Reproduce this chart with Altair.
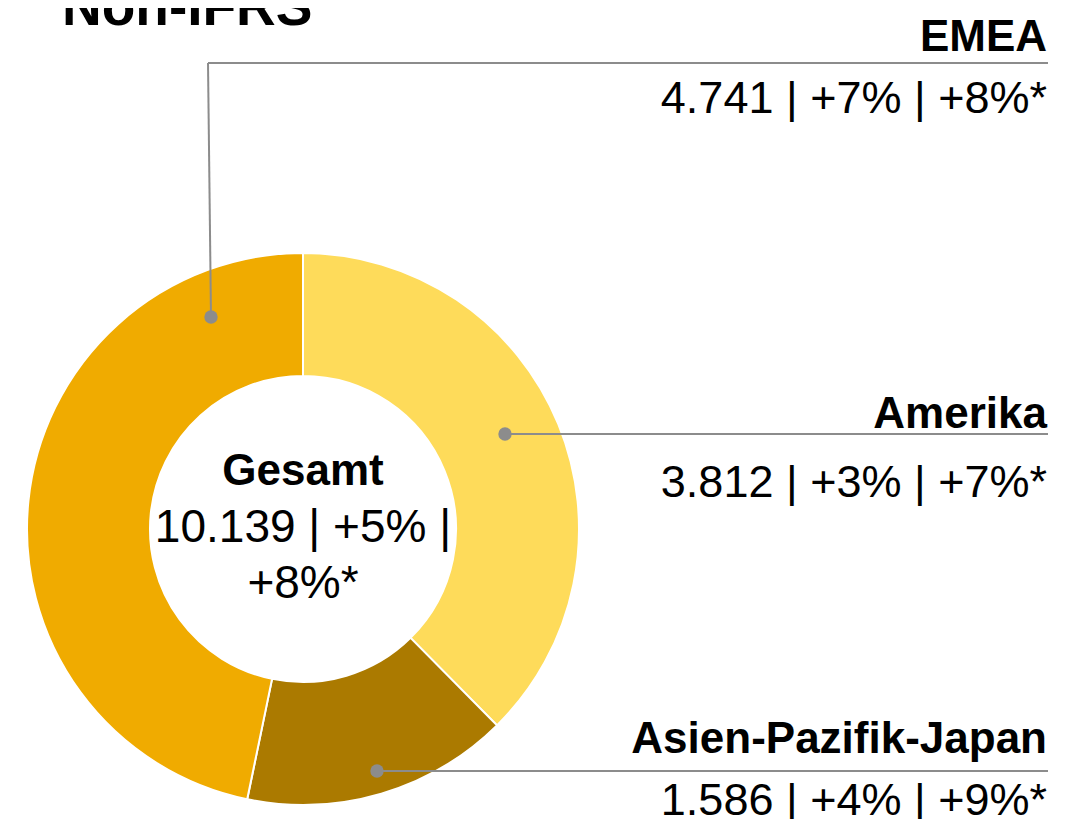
import altair as alt
import pandas as pd

# ---- data ----
regions = ["Amerika", "Asien-Pazifik-Japan", "EMEA"]
revenue = [3812, 1586, 4741]
growth = ["+3%", "+4%", "+7%"]
growth_cc = ["+7%*", "+9%*", "+8%*"]
colors = ["#FEDB5A", "#AB7A00", "#F0AB00"]
total_label = "Gesamt"
total_growth = "+5%"
total_growth_cc = "+8%*"
title_text = "Non-IFRS"


def fmt(v):
    return f"{v:,}".replace(",", ".")


total_value = sum(revenue)

df = pd.DataFrame({"region": regions, "revenue": revenue, "order": list(range(len(regions)))})

FONT = "Liberation Sans"
LINE = "#8C8C8C"
CX, CY = 295, 521
RIGHT = 1039

arc = alt.Chart(df).mark_arc(radius=276, innerRadius=153, stroke="white", strokeWidth=2).encode(
    theta=alt.Theta("revenue:Q", stack=True),
    order=alt.Order("order:Q"),
    color=alt.Color("region:N", scale=alt.Scale(domain=regions, range=colors), legend=None),
    x=alt.value(CX),
    y=alt.value(CY),
)

one = pd.DataFrame({"a": [0]})


def text(t, x, y, size, bold=False, align="right"):
    return alt.Chart(one).mark_text(
        text=t, font=FONT, fontSize=size, fontWeight="bold" if bold else "normal",
        align=align, baseline="alphabetic", color="black"
    ).encode(x=alt.value(x), y=alt.value(y))


def rule(x1, y1, x2, y2):
    return alt.Chart(one).mark_rule(color=LINE, strokeWidth=2).encode(
        x=alt.value(x1), y=alt.value(y1), x2=alt.value(x2), y2=alt.value(y2)
    )


def dot(x, y):
    return alt.Chart(one).mark_point(filled=True, size=180, color=LINE, opacity=1).encode(
        x=alt.value(x), y=alt.value(y)
    )


# annotation layout (name baseline, value baseline, leader line y, dot)
layout = {
    "EMEA": dict(ny=43, vy=105, ly=55, dot=(203, 309)),
    "Amerika": dict(ny=420, vy=489, ly=426, dot=(497, 426)),
    "Asien-Pazifik-Japan": dict(ny=745, vy=807, ly=763, dot=(369, 763)),
}

layers = [arc]
for i, r in enumerate(regions):
    L = layout[r]
    dx, dy = L["dot"]
    if r == "EMEA":
        layers.append(rule(200, L["ly"], dx, dy))
        layers.append(rule(200, L["ly"], RIGHT + 1, L["ly"]))
    else:
        layers.append(rule(dx, dy, RIGHT + 1, L["ly"]))
    layers.append(dot(dx, dy))
    layers.append(text(r, RIGHT, L["ny"], 44, bold=True))
    layers.append(text(f"{fmt(revenue[i])} | {growth[i]} | {growth_cc[i]}", RIGHT, L["vy"], 45))

layers.append(text(total_label, CX, 477, 44, bold=True, align="center"))
layers.append(text(f"{fmt(total_value)} | {total_growth} |", CX, 534, 46, align="center"))
layers.append(text(total_growth_cc, CX, 590, 46, align="center"))
layers.append(text(title_text, 54, 17, 55, bold=True, align="left"))

chart = alt.layer(*layers).properties(
    width=1066, height=811,
    autosize=alt.AutoSizeParams(type="none"),
    padding=0,
).configure_view(stroke=None)

chart.save("out.html", embed_options={"renderer": "svg", "actions": False})
